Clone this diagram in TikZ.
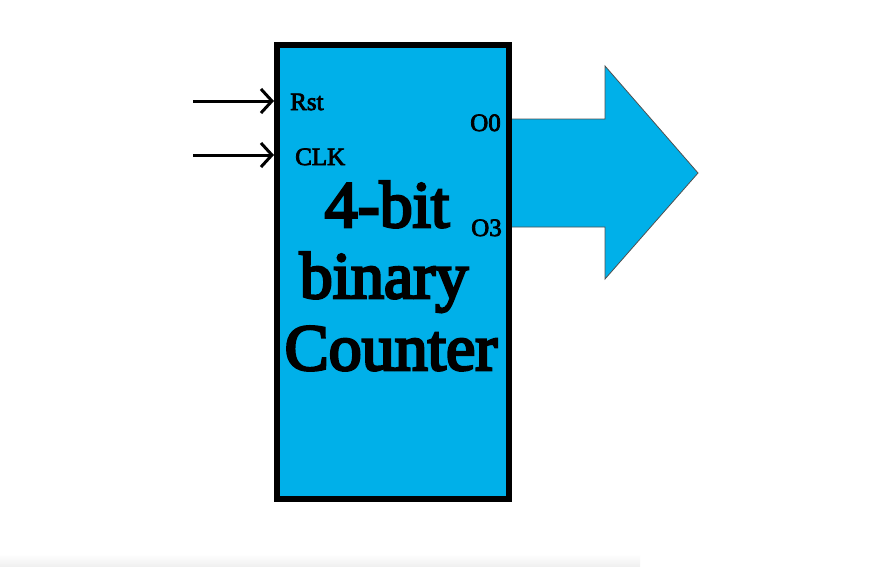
\documentclass[tikz,border=0pt]{standalone}
\usepackage{fontspec}
\setmainfont{Liberation Serif}
\newfontface\semiheavy{Liberation Serif}[FakeBold=4]
\newfontface\pinheavy{Liberation Serif}[FakeBold=3]
\usetikzlibrary{arrows.meta}
\definecolor{cbox}{RGB}{0,176,233}
\definecolor{cedge}{RGB}{80,80,80}
\begin{document}
\begin{tikzpicture}[x=1pt,y=-1pt,
  counterbox/.style={draw=black,fill=cbox,line width=6pt,minimum width=232pt,minimum height=454pt,inner sep=0pt},
  inarrow/.style={line width=3pt,-{Straight Barb[length=11pt,width=24pt,line width=3pt]}},
  pinlabel/.style={font=\pinheavy\fontsize{25}{25}\selectfont,inner sep=0pt,anchor=base},
  biglabel/.style={font=\semiheavy\fontsize{66}{66}\selectfont,inner sep=0pt,anchor=base}]
\useasboundingbox (0,0) rectangle (893,566);
\fill[white] (0,0) rectangle (893,566);
\shade[top color=white,bottom color=black!6] (0,554) rectangle (640,566);
% output arrow
\fill[cbox] (509,119) -- (605,119) -- (605,66) -- (698,173) -- (605,279) -- (605,227) -- (509,227) -- cycle;
\draw[cedge,line width=0.8pt,line join=miter] (509,119) -- (605,119) -- (605,66) -- (698,173) -- (605,279) -- (605,227) -- (509,227);
% box
\node[counterbox] (cnt) at (393,272) {};
% inputs
\coordinate (rstin) at (193,101);
\coordinate (clkin) at (193,155);
\draw[inarrow] (rstin) -- (rstin -| cnt.west);
\draw[inarrow] (clkin) -- (clkin -| cnt.west);
% labels
\node[pinlabel,anchor=base west] (rst) at (290,110) {Rst};
\node[pinlabel,anchor=base west] (clk) at (295,165) {CLK};
\node[pinlabel,anchor=base east] (o0) at (501,131) {O0};
\node[pinlabel,anchor=base east] (o3) at (502,236) {O3};
\node[biglabel] (l1) at (387,227) {4-bit};
\node[biglabel] (l2) at (384,298) {binary};
\node[biglabel] (l3) at (391,370) {Counter};
\end{tikzpicture}
\end{document}
